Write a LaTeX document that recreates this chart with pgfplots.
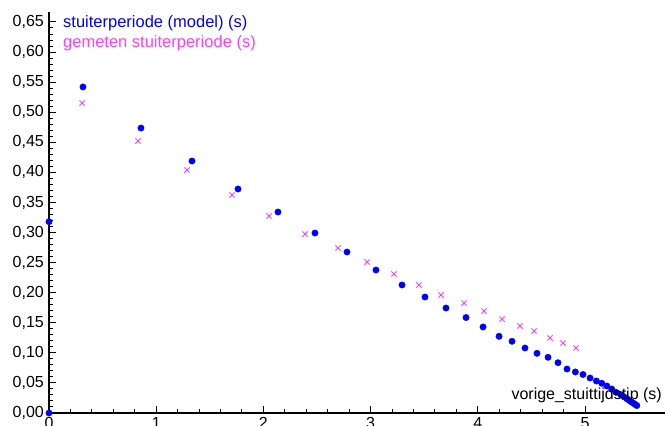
\documentclass[border=0pt]{standalone}
\usepackage{fontspec}
\setmainfont{Liberation Sans}
\usepackage{pgfplots}
\pgfplotsset{compat=1.18}
\definecolor{modelblue}{RGB}{0,0,255}
\definecolor{meetmag}{RGB}{255,60,255}
\begin{document}
\begin{tikzpicture}[font=\fontsize{16bp}{19bp}\selectfont]
\begin{axis}[
  scale only axis,
  width=616bp, height=401bp,
  xmin=0, xmax=5.746, ymin=0, ymax=0.6666,
  axis x line=bottom, axis y line=left,
  axis line style={-, line width=1.6bp, black},
  tick align=inside,
  major tick length=7bp, minor tick length=4bp,
  every tick/.style={black, line width=1bp},
  xtick={0,1,2,3,4,5},
  ytick={0,0.05,...,0.66},
  minor x tick num=4, minor y tick num=4,
  /pgf/number format/assume math mode=true,
  yticklabel style={anchor=east, inner sep=0pt, xshift=-5bp, /pgf/number format/.cd, fixed, fixed zerofill, precision=2, use comma},
  xticklabel style={anchor=north, inner sep=0pt, yshift=-4bp},
  xlabel={vorige\_stuittijdstip (s)},
  xlabel style={at={(axis description cs:1,0)}, anchor=base east, inner sep=0pt, yshift=14bp, xshift=-3bp},
  legend image code/.code={},
  legend style={at={(axis description cs:0,1)}, anchor=north west, xshift=14bp, yshift=-3.5bp,
    draw=none, fill=none, inner sep=0pt, row sep=3.5bp,
    font=\fontsize{16.5bp}{19bp}\selectfont,
    nodes={inner sep=0pt, text height=12bp, text depth=4bp}},
  legend cell align=left,
]
\addplot[only marks, mark=*, mark size=3.2bp, color=modelblue] coordinates {
(0,0) (0,0.318) (0.317,0.542) (0.858,0.4737) (1.334,0.4189) (1.763,0.3723)
(2.136,0.3341) (2.481,0.2992) (2.780,0.2676) (3.050,0.2377) (3.293,0.2128)
(3.507,0.1928) (3.703,0.1745) (3.890,0.1587) (4.049,0.1430) (4.198,0.1275)
(4.319,0.1192) (4.440,0.1080) (4.552,0.0992) (4.655,0.0926) (4.748,0.0836)
(4.832,0.0731) (4.910,0.0682) (4.981,0.0640) (5.047,0.0582) (5.106,0.0532)
(5.156,0.0494) (5.203,0.0449) (5.249,0.0399) (5.289,0.0344) (5.333,0.0304)
(5.364,0.0268) (5.391,0.0236) (5.414,0.0207) (5.435,0.0182) (5.453,0.0160)
(5.469,0.0141) (5.483,0.0124)
};
\addlegendentry{\textcolor{modelblue}{stuiterperiode (model) (s)}}
\addplot[only marks, mark=x, mark size=3.7bp, line width=0.9bp, color=meetmag] coordinates {
(0.308,0.5153) (0.830,0.4521) (1.287,0.4039) (1.707,0.3624) (2.052,0.3275)
(2.388,0.2975) (2.696,0.2743) (2.966,0.2510) (3.218,0.2311) (3.451,0.2128)
(3.657,0.1961) (3.871,0.1828) (4.058,0.1695) (4.226,0.1562) (4.394,0.1446)
(4.524,0.1363) (4.674,0.1247) (4.795,0.1164) (4.916,0.1080)
};
\addlegendentry{\textcolor{meetmag}{gemeten stuiterperiode (s)}}
\end{axis}
\pgfresetboundingbox
\path[use as bounding box] (-49bp,-13bp) rectangle (616bp,413bp);
\end{tikzpicture}
\end{document}
